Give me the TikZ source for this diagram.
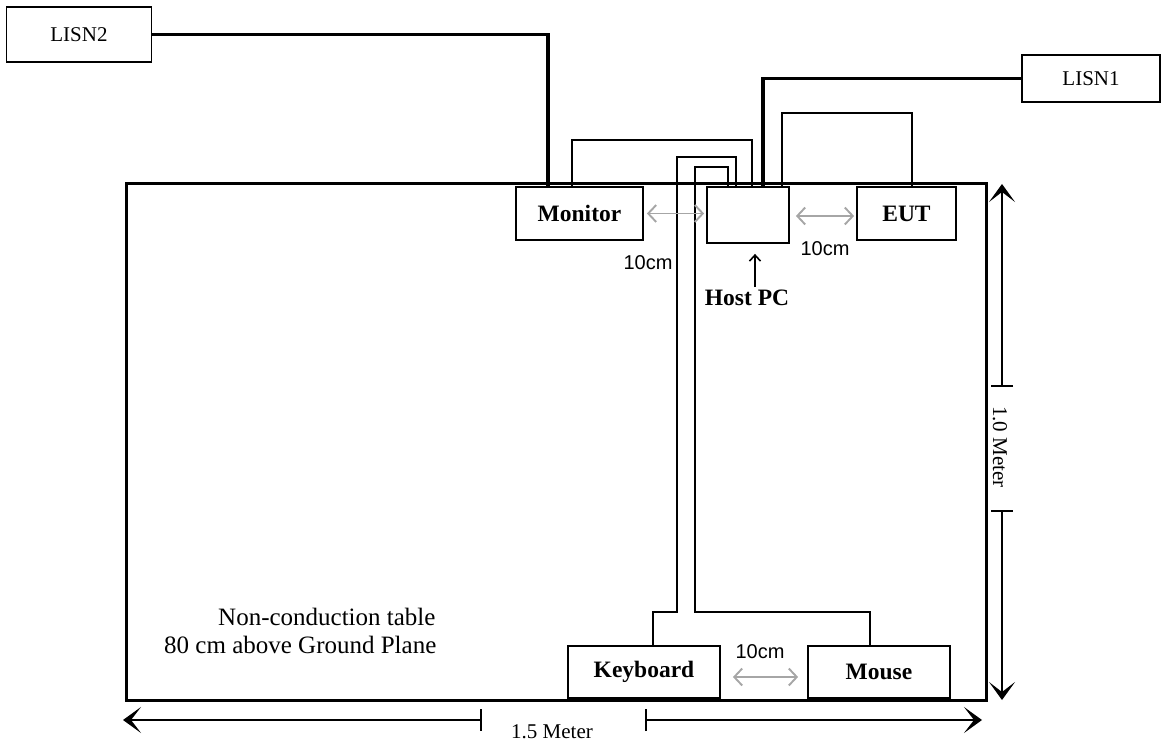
\documentclass[tikz,border=0pt]{standalone}
\usepackage{fontspec}
\setmainfont{Liberation Serif}
\setsansfont{Liberation Sans}
\usetikzlibrary{arrows.meta}

\begin{document}
\begin{tikzpicture}[
        x=1pt, y=-1pt,
        device/.style={draw, line width=1.8pt, inner sep=0pt, font=\fontsize{23.5}{28}\selectfont\bfseries},
        lisn/.style={draw, line width=1.5pt, inner sep=0pt, font=\fontsize{21}{25}\selectfont},
        wire/.style={line width=2pt},
        power/.style={line width=3.2pt},
        gap/.style={gray!70, line width=1.9pt, {Straight Barb[length=8pt,width=17pt]}-{Straight Barb[length=8pt,width=17pt]}},
        gaplabel/.style={font=\sffamily\fontsize{20}{24}\selectfont, inner sep=0pt},
        dim/.style={line width=1.6pt, {Bar[width=22pt]}-{Stealth[length=18pt,width=26pt,inset=10pt]}},
        dimlabel/.style={font=\fontsize{21}{25}\selectfont, inner sep=0pt},
        note/.style={anchor=base west, inner sep=0pt, font=\fontsize{25}{30}\selectfont}
    ]

    \useasboundingbox (0,0) rectangle (1161,743);

    \node[draw, line width=3pt, minimum width=860pt, minimum height=516pt] (table) at (556,442) {};

    \node[device, minimum width=127pt, minimum height=53pt] (monitor) at (579.5,213.5) {Monitor};
    \node[device, minimum width=82pt, minimum height=56pt] (hostpc) at (748,215) {};
    \node[device, minimum width=99pt, minimum height=53pt] (eut) at (906.5,213.5) {EUT};
    \node[device, minimum width=152pt, minimum height=52pt] (keyboard) at (644,672) {Keyboard};
    \node[device, minimum width=142pt, minimum height=52pt] (mouse) at (879,672) {Mouse};
    \node[lisn, minimum width=145pt, minimum height=55pt] (lisn2) at (79,34.5) {LISN2};
    \node[lisn, minimum width=138pt, minimum height=47pt] (lisn1) at (1091,78.5) {LISN1};

    \draw[power] (lisn2.east) -| ([xshift=-31.5pt]monitor.north);
    \draw[power] (lisn1.west) -| ([xshift=15pt]hostpc.north);

    \draw[wire] ([xshift=-7.5pt]monitor.north) -- ++(0,-46) -| ([xshift=4pt]hostpc.north);
    \draw[wire] ([xshift=34pt]hostpc.north) -- ++(0,-73) -| ([xshift=5.5pt]eut.north);
    \draw[wire] ([xshift=9pt]keyboard.north) |- (677,612) -- (677,157) -| ([xshift=-12pt]hostpc.north);
    \draw[wire] ([xshift=-9pt]mouse.north) |- (695,612) -- (695,167) -| ([xshift=-20pt]hostpc.north);

    \draw[gap, shorten <=3pt, shorten >=2pt] (monitor.east) -- (monitor.east -| hostpc.west);
    \draw[gap, shorten <=6pt, shorten >=2pt] ([yshift=-1pt]hostpc.east) -- ([yshift=-1pt]hostpc.east -| eut.west);
    \draw[gap, shorten <=12pt, shorten >=9pt] ([yshift=-5pt]keyboard.east) -- ([yshift=-5pt]mouse.west);

    \node[gaplabel] (gapmonitor) at (648,263) {10cm};
    \node[gaplabel] (gapeut) at (825,249) {10cm};
    \node[gaplabel] (gapmouse) at (760,652) {10cm};

    \node[device, draw=none] (hostlabel) at (747,298) {Host PC};
    \draw[line width=1.6pt, -{Straight Barb[length=6pt,width=11pt]}] ([xshift=8pt,yshift=2pt]hostlabel.north) -- ([xshift=7pt,yshift=-10pt]hostpc.south);

    \node[note] (tabletext) at (218,625) {Non-conduction table};
    \node[note] (tableheight) at (164,653) {80 cm above Ground Plane};

    \coordinate (wleft) at (123,720);
    \coordinate (wright) at (982,720);
    \coordinate (htop) at (1002,184);
    \coordinate (hbottom) at (1002,700);

    \node[dimlabel] (widthlabel) at (552,732) {1.5 Meter};
    \node[dimlabel, rotate=-90] (heightlabel) at (1000,447) {1.0 Meter};

    \draw[dim] (482,720) -- (wleft);
    \draw[dim] (645,720) -- (wright);
    \draw[dim] (1002,387) -- (htop);
    \draw[dim] (1002,510) -- (hbottom);

\end{tikzpicture}
\end{document}
